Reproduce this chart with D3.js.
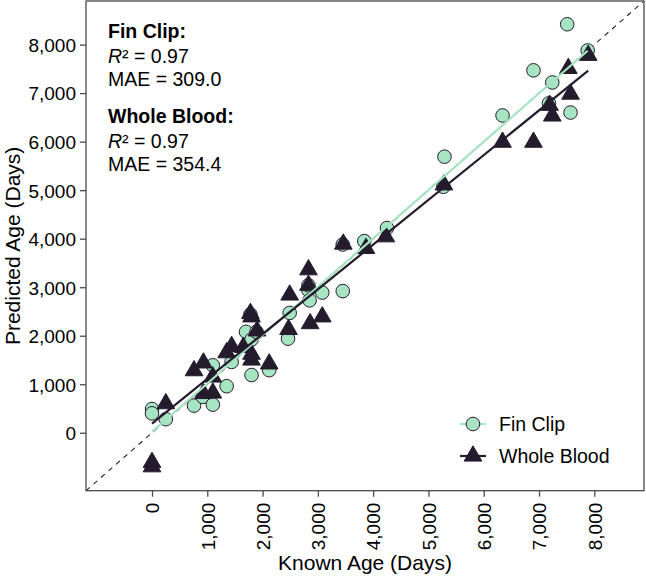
<!DOCTYPE html>
<html><head><meta charset="utf-8">
<script src="https://cdn.jsdelivr.net/npm/d3@7"></script>
<style>body{margin:0;background:#fff} text{font-family:"Liberation Sans",Arial,Helvetica,sans-serif;fill:#000}</style>
</head><body>
<svg id="chart" width="646" height="578"></svg>
<script>
// ---- data ----
const finKnown = [0,0,250,760,920,1100,1100,1350,1440,1700,1780,1800,1800,1890,2120,2460,2490,2830,2850,2830,3080,3450,3450,3840,4250,5270,5290,6340,6900,7180,7240,7510,7570,7880];
const finPred  = [490,400,280,560,740,580,1390,960,1460,2080,2440,1920,1190,2080,1290,1940,2470,2940,2730,3040,2890,2920,3880,3950,4220,5070,5690,6540,7470,6790,7220,8420,6600,7880];
const wbKnown  = [0,0,250,760,930,930,1100,1100,1350,1440,1650,1780,1800,1800,1800,1900,2120,2470,2490,2830,2830,2860,3080,3460,3870,4230,5280,6340,6900,7190,7240,7530,7570,7890];
const wbPred   = [-610,-700,600,1280,1440,810,820,1150,1650,1780,1760,2460,2390,1620,1500,2100,1420,2130,2840,3360,3040,2250,2390,3890,3800,4040,5110,5990,5990,6750,6530,7510,6980,7780];
const fitFin = [20, 0.9966];   // intercept, slope
const fitWB  = [190, 0.922];
const tickValues = [0,1000,2000,3000,4000,5000,6000,7000,8000];
const axisDomain = [-1194, 8899];
const seriesNames = ["Fin Clip","Whole Blood"];
const statLines = [["Fin Clip:","0.97","MAE = 309.0"],["Whole Blood:","0.97","MAE = 354.4"]];

const green = "#a6e4c2", dark = "#241b2d", frame = "#4a4a4a";
const L = 86, R = 644, T = 1, B = 490.7;
const svg = d3.select("#chart");
const x = d3.scaleLinear().domain(axisDomain).range([L, R]);
const y = d3.scaleLinear().domain(axisDomain).range([B, T]);
const fmt = d3.format(",");

// axes
const xAxis = svg.append("g").attr("transform",`translate(0,${B})`)
  .call(d3.axisBottom(x).tickValues(tickValues).tickFormat(fmt).tickSize(6).tickPadding(4));
xAxis.select(".domain").remove();
xAxis.selectAll(".tick line").attr("stroke",frame).attr("stroke-width",1.3);
xAxis.selectAll(".tick text").attr("font-size",19).attr("fill","#000")
  .attr("transform","rotate(-90)").attr("text-anchor","end").attr("x",-12).attr("y",0).attr("dy","0.36em");

const yAxis = svg.append("g").attr("transform",`translate(${L},0)`)
  .call(d3.axisLeft(y).tickValues(tickValues).tickFormat(fmt).tickSize(6).tickPadding(4));
yAxis.select(".domain").remove();
yAxis.selectAll(".tick line").attr("stroke",frame).attr("stroke-width",1.3);
yAxis.selectAll(".tick text").attr("font-size",19).attr("fill","#000").attr("dy","0.36em");

// clip
svg.append("clipPath").attr("id","clp").append("rect").attr("x",L).attr("y",T).attr("width",R-L).attr("height",B-T);
const plot = svg.append("g").attr("clip-path","url(#clp)");

// identity dashed line
plot.append("line").attr("x1",x(axisDomain[0])).attr("y1",y(axisDomain[0])).attr("x2",x(axisDomain[1])).attr("y2",y(axisDomain[1]))
  .attr("stroke","#222").attr("stroke-width",1.1).attr("stroke-dasharray","5,5");

// points
const finData = finKnown.map((k,i)=>({k, p:finPred[i]}));
const wbData = wbKnown.map((k,i)=>({k, p:wbPred[i]}));
const tri = d3.symbol(d3.symbolTriangle).size(135);

plot.selectAll("circle.fin").data(finData).enter().append("circle")
  .attr("cx",d=>x(d.k)).attr("cy",d=>y(d.p)).attr("r",6.8)
  .attr("fill",green).attr("stroke",dark).attr("stroke-width",1);
plot.selectAll("path.wb").data(wbData).enter().append("path")
  .attr("d",tri).attr("transform",d=>`translate(${x(d.k)},${y(d.p)})`)
  .attr("fill",dark).attr("stroke",dark).attr("stroke-width",1);

// fit lines
function fitLine(ks, fit, color){
  const x0 = d3.min(ks), x1 = d3.max(ks);
  plot.append("line").attr("x1",x(x0)).attr("y1",y(fit[0]+fit[1]*x0))
    .attr("x2",x(x1)).attr("y2",y(fit[0]+fit[1]*x1))
    .attr("stroke",color).attr("stroke-width",2.2);
}
fitLine(finKnown, fitFin, green);
fitLine(wbKnown, fitWB, dark);

// frame
svg.append("rect").attr("x",L).attr("y",T).attr("width",R-L).attr("height",B-T)
  .attr("fill","none").attr("stroke",frame).attr("stroke-width",1.3);

// annotation
const ann = svg.append("g").attr("font-size",19.5);
statLines.forEach((s,i)=>{
  const y0 = 38 + i*85;
  ann.append("text").attr("x",108).attr("y",y0).attr("font-weight","bold").text(s[0]);
  const t = ann.append("text").attr("x",108).attr("y",y0+25);
  t.append("tspan").attr("font-style","italic").text("R");
  t.append("tspan").text("\u00B2 = "+s[1]);
  ann.append("text").attr("x",108).attr("y",y0+48).text(s[2]);
});

// legend
const lg = svg.append("g");
[[424, "c"],[456, "t"]].forEach((d,i)=>{
  const cy = d[0];
  lg.append("line").attr("x1",460).attr("x2",486).attr("y1",cy).attr("y2",cy)
    .attr("stroke", i===0?green:dark).attr("stroke-width",2.2);
  if(i===0) lg.append("circle").attr("cx",473).attr("cy",cy).attr("r",6.8).attr("fill",green).attr("stroke",dark).attr("stroke-width",1);
  else lg.append("path").attr("d",tri).attr("transform",`translate(473,${cy})`).attr("fill",dark).attr("stroke",dark);
  lg.append("text").attr("x",499).attr("y",cy).attr("dy","0.36em").attr("font-size",19.5).text(seriesNames[i]);
});

// axis titles
svg.append("text").attr("x",(L+R)/2).attr("y",570).attr("text-anchor","middle").attr("font-size",21).text("Known Age (Days)");
svg.append("text").attr("transform",`translate(20,${(T+B)/2}) rotate(-90)`).attr("text-anchor","middle").attr("font-size",21).text("Predicted Age (Days)");
</script>
</body></html>
